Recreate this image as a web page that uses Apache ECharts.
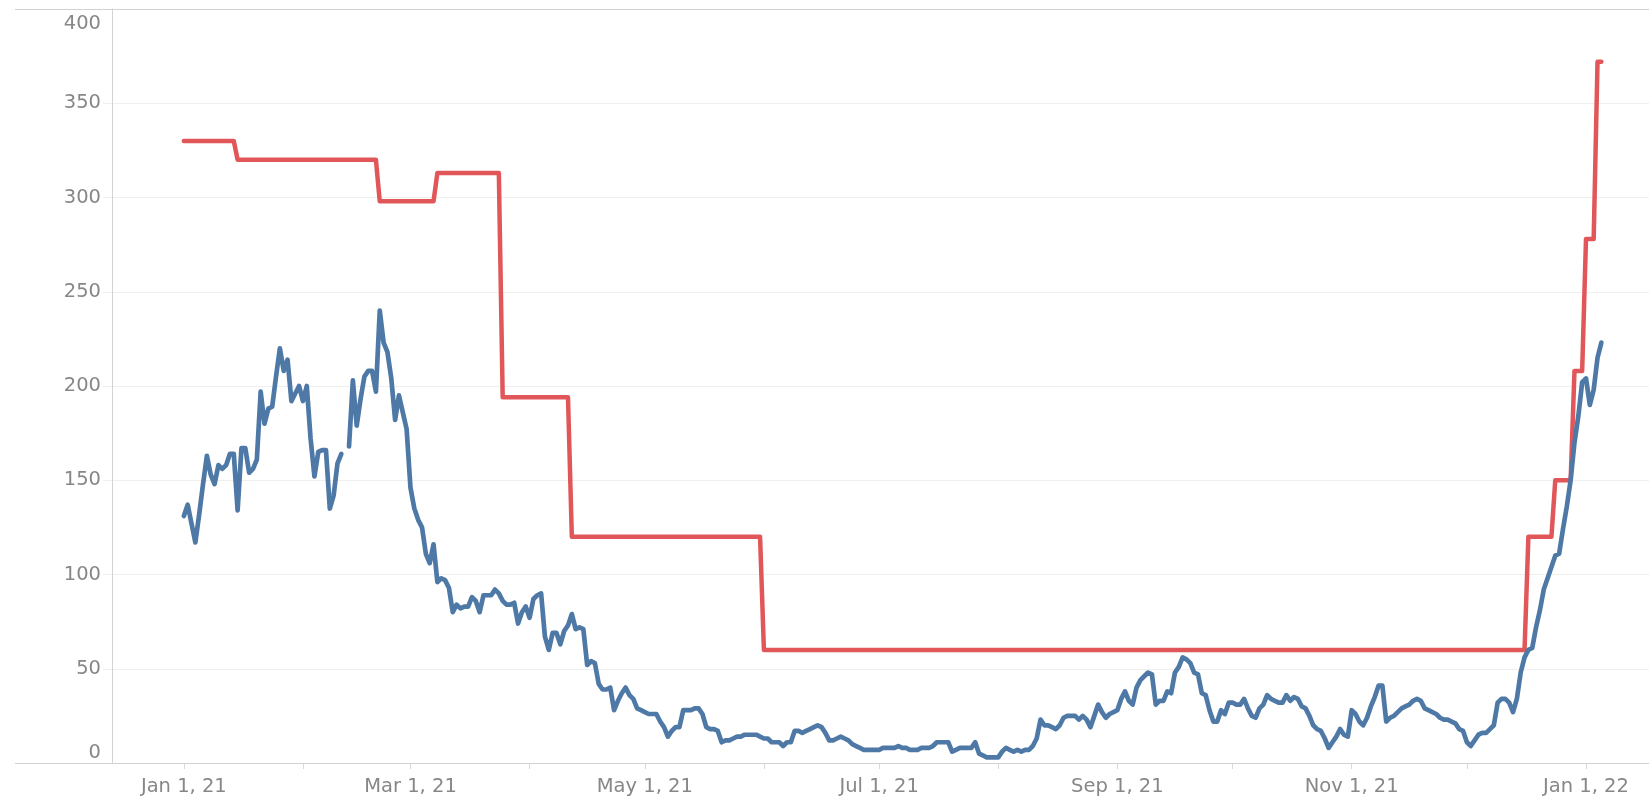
<!DOCTYPE html>
<html>
<head>
<meta charset="utf-8">
<script src="https://cdn.jsdelivr.net/npm/echarts@6/dist/echarts.min.js"></script>
<style>
  html, body { margin: 0; padding: 0; background: #ffffff; }
  #chart { width: 1649px; height: 801px; }
</style>
</head>
<body>
<div id="chart"></div>
<script>
// ---- DATA ----
// Day 0 = Jan 1, 2021 ; one value per day
const startYear = 2021, startMonth = 0, startDay = 1;

const blueValues = [
  131,137,127,117,132,148,163,153,148,158,
  156,158,164,164,134,167,167,154,156,161,
  197,180,188,189,205,220,208,214,192,196,
  200,192,200,172,152,165,166,166,135,142,
  159,164,null,168,203,179,193,205,208,208,
  197,240,223,218,204,182,195,186,177,146,
  135,129,125,111,106,116,96,98,97,93,
  80,84,82,83,83,88,86,80,89,89,
  89,92,90,86,84,84,85,74,80,83,
  77,87,89,90,67,60,69,69,63,70,
  73,79,71,72,71,52,54,53,42,39,
  39,40,28,33,37,40,36,34,29,28,
  27,26,26,26,22,19,14,17,19,19,
  28,28,28,29,29,26,19,18,18,17,
  11,12,12,13,14,14,15,15,15,15,
  14,13,13,11,11,11,9,11,11,17,
  17,16,17,18,19,20,19,16,12,12,
  13,14,13,12,10,9,8,7,7,7,
  7,7,8,8,8,8,9,8,8,7,
  7,7,8,8,8,9,11,11,11,11,
  6,7,8,8,8,8,11,5,4,3,
  3,3,3,6,8,7,6,7,6,7,
  7,9,13,23,20,20,19,18,20,24,
  25,25,25,23,25,23,19,25,31,27,
  24,26,27,28,34,38,33,31,40,44,
  46,48,47,31,33,33,38,37,48,51,
  56,55,53,48,47,37,36,28,22,22,
  28,26,32,32,31,31,34,29,25,24,
  29,31,36,34,33,32,32,36,33,35,
  34,30,29,25,20,18,17,13,8,11,
  14,18,15,14,28,26,22,20,24,30,
  35,41,41,22,24,25,27,29,30,31,
  33,34,33,29,28,27,26,24,23,23,
  22,21,18,17,11,9,12,15,16,16,
  18,20,32,34,34,32,27,34,48,56,
  60,61,72,81,92,98,104,110,111,124,
  136,150,170,184,202,204,190,198,215,223
];

// Red series: constant levels between a first and last day (day offsets from Jan 1, 2021)
const redFirstDay = [0, 14, 51, 66, 83, 101, 151, 350, 357, 362, 365, 368];
const redLastDay  = [13, 50, 65, 82, 100, 150, 349, 356, 361, 364, 367, 369];
const redValues   = [330, 320, 298, 313, 194, 120, 60, 120, 150, 208, 278, 372];

// Axis ticks
const yTicks = [0, 50, 100, 150, 200, 250, 300, 350, 400];
const tickMonths = [[2021,0],[2021,1],[2021,2],[2021,3],[2021,4],[2021,5],[2021,6],[2021,7],[2021,8],[2021,9],[2021,10],[2021,11],[2022,0]];
const labelMonths = [[2021,0],[2021,2],[2021,4],[2021,6],[2021,8],[2021,10],[2022,0]];
const monthNames = ['Jan','Feb','Mar','Apr','May','Jun','Jul','Aug','Sep','Oct','Nov','Dec'];

// x-axis visible range in days relative to Jan 1, 2021
const xMinDay = -18.7, xMaxDay = 381.4;

// ---- BUILD ----
const DAY = 86400000;
const t0 = Date.UTC(startYear, startMonth, startDay);
const monthToDay = m => Math.round((Date.UTC(m[0], m[1], 1) - t0) / DAY);
const dayToLabel = d => {
  const dt = new Date(t0 + Math.round(d) * DAY);
  return monthNames[dt.getUTCMonth()] + ' ' + dt.getUTCDate() + ', ' + String(dt.getUTCFullYear()).slice(2);
};

const blueData = blueValues.map((v, i) => [i, v]);
const redData = [];
redValues.forEach((v, i) => {
  redData.push([redFirstDay[i], v]);
  redData.push([redLastDay[i], v]);
});

const FONT = 'DejaVu Sans';
const LABEL_COLOR = '#878787';

const chart = echarts.init(document.getElementById('chart'), null, { renderer: 'canvas' });
chart.setOption({
  animation: false,
  backgroundColor: '#ffffff',
  grid: { left: 112, right: 0, top: 9, bottom: 38, containLabel: false, outerBoundsMode: 'none' },
  xAxis: [
    {
      type: 'value',
      position: 'bottom',
      min: xMinDay,
      max: xMaxDay,
      axisLine: { show: true, onZero: false, lineStyle: { color: '#d2d2d2', width: 1 } },
      axisTick: { show: false },
      axisLabel: {
        show: true,
        interval: 0,
        customValues: labelMonths.map(monthToDay),
        formatter: dayToLabel,
        color: LABEL_COLOR, fontFamily: FONT, fontSize: 19.5, margin: 14,
        hideOverlap: false
      },
      splitLine: { show: false }
    },
    {
      type: 'value',
      position: 'bottom',
      offset: 0,
      min: xMinDay,
      max: xMaxDay,
      axisLine: { show: false, onZero: false },
      axisTick: {
        show: true, length: 6, interval: 0, lineStyle: { color: '#d8d8d8' },
        customValues: tickMonths.map(monthToDay)
      },
      axisLabel: { show: false },
      splitLine: { show: false }
    }
  ],
  yAxis: {
    type: 'value',
    min: 0, max: 400, interval: 50,
    axisLine: { show: true, onZero: false, lineStyle: { color: '#d2d2d2', width: 1 } },
    axisTick: { show: true, length: 9, lineStyle: { color: '#efefef' } },
    axisLabel: {
      color: LABEL_COLOR, fontFamily: FONT, fontSize: 19.5, margin: 11,
      verticalAlignMinLabel: 'bottom',
      verticalAlignMaxLabel: 'top',
      formatter: v => {
        if (yTicks.indexOf(v) < 0) return '';
        if (v === 400) return '{mx|' + v + '}';
        return String(v);
      },
      rich: {
        mx: { color: LABEL_COLOR, fontFamily: FONT, fontSize: 19.5, padding: [5, 0, 0, 0] }
      }
    },
    splitLine: { show: true, lineStyle: { color: '#efefef', width: 1 } }
  },
  graphic: [
    { type: 'line', silent: true, z: 100,
      shape: { x1: 15, y1: 9.5, x2: 1649, y2: 9.5 },
      style: { stroke: '#d2d2d2', lineWidth: 1 } },
    { type: 'line', silent: true, z: 100,
      shape: { x1: 15, y1: 763.5, x2: 112, y2: 763.5 },
      style: { stroke: '#d2d2d2', lineWidth: 1 } }
  ],
  series: [
    {
      name: 'Red', type: 'line', data: redData, showSymbol: false, symbol: 'none',
      xAxisIndex: 0,
      lineStyle: { color: '#E15759', width: 4.5, cap: 'round', join: 'round' },
      z: 2
    },
    {
      name: 'Blue', type: 'line', data: blueData, showSymbol: false, symbol: 'none',
      xAxisIndex: 0,
      connectNulls: false,
      lineStyle: { color: '#4E79A7', width: 4.7, cap: 'round', join: 'round' },
      z: 3
    }
  ]
});
</script>
</body>
</html>
